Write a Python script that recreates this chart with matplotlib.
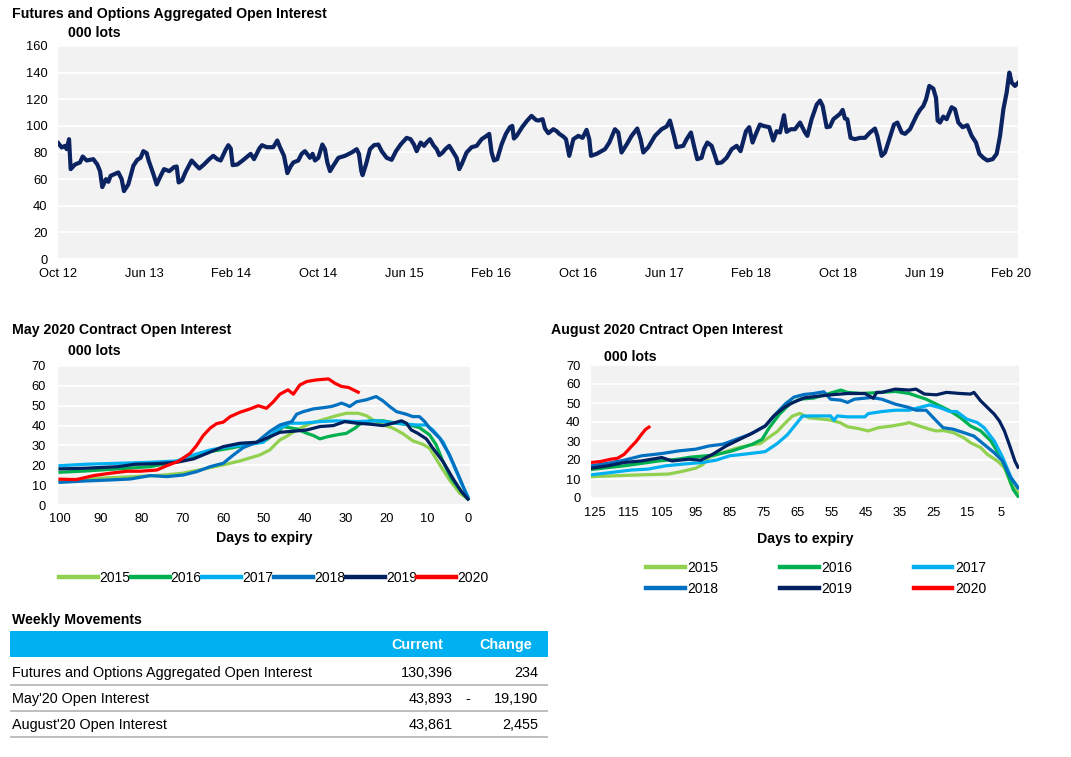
import matplotlib
matplotlib.use("Agg")
import matplotlib.pyplot as plt
from matplotlib.patches import Rectangle

plt.rcParams['font.family'] = ['Liberation Sans', 'DejaVu Sans']

# ------------------------------------------------------------------ data
agg_tick_labels = ["Oct 12", "Jun 13", "Feb 14", "Oct 14", "Jun 15", "Feb 16",
                   "Oct 16", "Jun 17", "Feb 18", "Oct 18", "Jun 19", "Feb 20"]
# months since Oct 2012
agg_months = [0.03, 0.34, 0.65, 0.80, 1.02, 1.17, 1.57, 2.03, 2.28, 2.65, 3.26, 3.63, 3.88, 4.09,
              4.43, 4.65, 4.86, 5.57, 5.88, 6.09, 6.49, 6.96, 7.32, 7.63, 7.88, 8.19, 8.37, 8.80,
              9.11, 9.48, 9.79, 10.28, 10.71, 10.96, 11.14, 11.45, 11.76, 12.34, 12.74, 13.05,
              13.48, 13.97, 14.34, 14.71, 15.02, 15.48, 15.73, 15.95, 16.13, 16.56, 17.05, 17.49,
              17.79, 18.10, 18.59, 18.84, 19.27, 19.88, 20.25, 20.50, 20.87, 21.18, 21.48,
              21.73, 22.19, 22.5, 22.8, 23.0, 23.27, 23.51, 23.73, 24.04, 24.41, 24.65, 24.87,
              25.12, 25.42, 25.89, 26.50, 27.12, 27.58, 27.79, 28.01, 28.13, 28.44, 28.81, 29.18,
              29.58, 29.89, 30.35, 30.81, 31.21, 31.64, 32.19, 32.56, 32.87, 33.12, 33.49, 33.80,
              34.04, 34.35, 34.66, 34.97, 35.21, 35.52, 35.77, 36.13, 36.44, 36.81, 37.05, 37.27,
              37.73, 38.20, 38.66, 39.12, 39.58, 39.82, 40.04, 40.26, 40.56, 40.96, 41.36, 41.73,
              41.95, 42.10, 42.35, 42.90, 43.33, 43.73, 44.13,
              44.35, 44.75, 44.97, 45.28, 45.74, 46.05, 46.29, 46.66, 46.91, 47.21, 47.59, 48.05,
              48.44, 48.81, 49.06, 49.22, 49.74, 50.51, 50.91, 51.43, 51.74, 52.04, 52.51, 52.97,
              53.49, 53.80, 54.05, 54.51, 55.13, 55.74, 56.20, 56.51, 56.88, 57.12, 57.74, 58.05,
              58.45, 58.73, 59.03, 59.43, 59.65, 59.96, 60.36, 60.67, 60.88, 61.28, 61.74, 62.21,
              62.67, 63.03, 63.53, 63.83, 64.14, 64.45, 64.82, 65.13, 65.68,
              66.05, 66.36, 66.67, 67.04, 67.28, 67.66, 68.06, 68.52, 68.98, 69.20, 69.59, 70.06,
              70.37, 70.61, 70.98, 71.29, 71.60, 71.90, 72.21, 72.46, 72.67, 72.89, 73.19, 73.59,
              74.06, 74.52, 74.98, 75.44, 75.66, 76.06, 76.37, 76.77, 77.20, 77.51, 77.91, 78.22,
              78.68, 79.30, 79.60, 79.91, 80.16, 80.46, 80.83, 81.08, 81.23, 81.45, 81.75, 82.06,
              82.52, 82.83, 83.14, 83.54, 83.97, 84.37, 84.77, 85.08, 85.45, 85.82, 86.31, 86.68,
              86.99, 87.30, 87.60, 87.85, 88.07, 88.37, 88.68]
agg_values = [87, 83.75, 85, 82.5, 90, 67.5, 71, 72.5, 77, 74, 75, 71, 66, 54,
              60, 58, 62.5, 65, 60, 51, 56, 70, 74.5, 76, 81, 79.5, 74, 64,
              56, 62.5, 67.5, 66, 69, 69.5, 57.5, 59, 65, 74, 70.5, 68,
              71, 75, 77.5, 75, 74, 82, 85.5, 83, 70.5, 71, 74, 77,
              79, 75, 83, 85.5, 84, 84, 89, 84, 77.5, 64.5, 69.5,
              72.5, 74, 79, 81, 79, 76, 79, 74, 76, 86, 82.5, 72.5,
              66, 70, 76, 77.5, 80, 82.5, 79, 66, 63, 71, 82.5, 85.5,
              86, 81, 76, 74.5, 81, 86, 91, 90, 86, 81, 87.5, 85,
              87.5, 90, 85.5, 82.5, 78, 80, 82.5, 85, 81, 76, 67.5, 71,
              80, 84, 85, 90, 92.5, 94, 80, 74, 75, 86, 94, 99,
              100, 90.5, 92.5, 99.5, 104, 107.5, 104.5,
              104, 105, 98, 94.5, 97.5, 96, 94, 92, 90, 77.5, 90, 92.5,
              91, 97, 90, 77.5, 79, 82.5, 87.5, 97.5, 95, 80, 86, 92.5,
              98, 90, 80, 84, 92.5, 97.5, 99.5, 104, 92.5, 84, 85, 90,
              95, 85, 75, 76, 82.5, 87.5, 85, 77.5, 72, 72.5, 76, 82.5,
              85, 81, 96, 99, 87.5, 94, 101, 100, 99,
              89, 96, 95, 108, 95.5, 97.5, 97.5, 102.5, 95, 92.5, 105, 116,
              119, 115, 99, 99.5, 105, 107, 109, 112, 105.5, 105, 91, 90,
              91, 91, 95, 98, 92.5, 77.5, 80, 90, 101, 102.5, 95, 94,
              97.5, 108, 112, 115, 120, 130, 128, 121, 104, 102.5, 107, 105,
              114, 112.5, 102.5, 99, 100.5, 92.5, 87.5, 79, 76, 74, 75, 79,
              92.5, 112.5, 125, 140, 132.5, 130, 132.5]

years = ["2015", "2016", "2017", "2018", "2019", "2020"]
year_colors = ["#92D050", "#00B050", "#00B0F0", "#0070C0", "#002060", "#FF0000"]

# May 2020 contract: days to expiry / open interest (000 lots)
may_days_2015 = [100, 90, 85, 80, 75, 70, 65, 60, 55.9, 51, 48.6, 46.1, 44.5, 42, 38.7, 35.5, 32.2,
                 29.8, 26.9, 24.9, 23.3, 20.8, 18.4, 16, 13.5, 11.1, 9.4, 6.9, 4.5, 2.0, 0]
may_vals_2015 = [12.5, 13.5, 14, 14.5, 15, 16, 18, 20.2, 22.2, 25.2, 27.7, 32.8, 34.5, 37.8, 41, 43, 45,
                 46.2, 46.2, 45, 42.9, 40.3, 38.7, 36, 32.3, 30.6, 28.6, 20.2, 12.6, 5.9, 3]
may_days_2016 = [100, 94, 85.8, 77.9, 72.2, 67.3, 63.2, 58.3, 53.4, 49.4, 46.1, 45.3, 42, 39.5, 37.9,
                 36.3, 34.2, 32.2, 29.8, 27.7, 26.5, 24, 20.8, 17.5, 14.3, 11.9, 9.4, 7.8, 6.1, 4.1,
                 1.6, 0]
may_vals_2016 = [16.5, 17.1, 18.2, 19.3, 21.5, 24.4, 26.9, 28.6, 30.6, 32.8, 37.8, 39.5, 38.3, 36.1, 35,
                 33.3, 34.5, 35.3, 36.1, 38.7, 40.7, 42.4, 42.4, 41.2, 40.3, 39, 35.3, 30.3, 21.8, 13.4,
                 6.7, 3]
may_days_2017 = [100, 94, 85.8, 77.9, 71.4, 67.3, 63.2, 60, 56.7, 53.4, 50.2, 48.5, 46.1, 43.6, 40.4,
                 36.3, 32.2, 27.3, 22.5, 17.5, 12.7, 10.2, 8.6, 6.1, 3.7, 1.6, 0]
may_vals_2017 = [19.8, 20.5, 21, 21.5, 22.2, 25.2, 27.7, 28.9, 29.9, 30.6, 31.6, 35, 38.7, 41.2, 41.2,
                 42, 42.4, 42, 42.4, 41.2, 40.3, 40.3, 37.8, 31.8, 21, 10.9, 4.2]
may_days_2018 = [100, 94, 87.7, 82.8, 77.9, 73.8, 69.8, 66.5, 63.2, 60, 57.5, 55.1, 51.8, 48.6, 46.1,
                 43.2, 42, 40.4, 37.9, 35.5, 33.5, 32.2, 31, 29.8, 29, 27.3, 24.9, 22.5, 20.8, 19.2,
                 17.5, 15.1, 13.5, 11.9, 10.6, 9.4, 6.9, 4.5, 2.0, 0]
may_vals_2018 = [11.4, 12.1, 12.6, 13.1, 14.8, 14.3, 15.1, 16.8, 19.3, 21, 25.2, 28.9, 31.6, 37, 40.3,
                 42, 45.7, 47, 48.4, 49, 49.6, 50.4, 51.3, 50.4, 49.6, 52, 53, 54.6, 52.4, 49.6,
                 47, 45.7, 44.5, 44.5, 42, 38.7, 33.6, 25.2, 13.4, 3.4]
may_days_2019 = [100, 94, 85.8, 81.7, 76.3, 71.4, 67.3, 64, 60, 55.9, 51.8, 49.4, 46.1, 42, 39.5, 36.3,
                 33, 30.2, 27.3, 24, 20.8, 18.4, 16.3, 15.1, 13.9, 12.3, 10.2, 8.6, 6.1, 3.7, 1.6, 0]
may_vals_2019 = [18.2, 18.5, 19.3, 20.5, 20.8, 21.5, 23.2, 26, 29.4, 31.1, 31.6, 33.6, 36.6, 37.3, 37.8,
                 39.5, 40, 42, 41.2, 40.7, 40, 41.2, 42.4, 41.2, 37.8, 36.1, 33.3, 28.6, 21.8, 13.4,
                 6.7, 3]
may_days_2020 = [100, 96, 91.8, 87.7, 83.6, 80.4, 76.3, 73.8, 71, 68.1, 66.5, 64.9, 63.2, 61.6, 60,
                 58.3, 55.9, 53.4, 51.4, 49.4, 47.7, 46.1, 44.1, 42.8, 41.2, 39.5, 37.1, 34.2, 32.6,
                 31, 29.3, 28.1, 26.9]
may_vals_2020 = [13, 12.8, 14.8, 16, 17, 17, 17.6, 19.8, 22, 26, 30, 35, 38.7, 41, 41.7,
                 44.5, 46.7, 48.4, 50, 48.7, 52, 55.8, 58, 55.8, 60.5, 62.2, 63, 63.5, 61.3,
                 59.7, 59.2, 58, 56.8]

# August 2020 contract
aug_days_2015 = [126, 119.2, 111.1, 103.1, 99.1, 95.1, 93.1, 91.1, 87.1, 83.1, 79.1, 76.1, 73.6, 71.1,
                 69.1, 66.6, 64.4, 61.6, 60.3, 55.3, 52.3, 50.3, 47, 44.2, 41.2, 37.2, 33.2, 32.1,
                 29.1, 26.1, 24.1, 22.1, 19.1, 16, 14, 11, 9, 6, 4, 2, 0]
aug_vals_2015 = [11.2, 11.7, 12.2, 12.6, 14, 15.7, 17.5, 21.3, 23.9, 26.2, 27.9, 28.6, 31.8, 34.9,
                 38.7, 43.1, 44.5, 42.2, 42, 41, 39.5, 37.5, 36.5, 35.3, 37, 37.9, 39.2, 39.7,
                 37.9, 36.2, 35.3, 35.5, 34.4, 31.7, 29.1, 26.5, 22.9, 19.4, 15.9, 7, 3]
aug_days_2016 = [126, 116, 106, 100, 96.6, 90, 84.5, 78.5, 75.5, 73.4, 70.4, 67.4, 64.4, 60.3, 56.3,
                 52.3, 50.3, 46.2, 40.2, 36.2, 32.1, 30.1, 27.1, 24.1, 20.1, 17, 14, 11, 8, 5, 3,
                 1.4, 0]
aug_vals_2016 = [15, 17, 19.5, 20.5, 21.5, 22.5, 24.7, 28.2, 30.9, 37, 44.1, 49.4, 52, 52.6, 54.7,
                 56.8, 55.6, 55, 55.6, 56.1, 55, 53.8, 52, 49.4, 45.9, 42.3, 37.9, 35.3, 30, 21.2,
                 12.3, 4.4, 0.9]
aug_days_2017 = [126, 120.2, 114.2, 109.2, 104.1, 99.1, 93.1, 89.1, 85.1, 79.1, 74.6, 71.1, 68.1, 65.6,
                 63.6, 60.3, 55.3, 54.3, 53.3, 50.3, 45.2, 44.2, 40.2, 36.2, 32.1, 29.1, 26.1, 23.1,
                 20.1, 18.1, 15, 12, 10, 7, 4.5, 2, 0]
aug_vals_2017 = [12.2, 13.4, 14.7, 15.2, 16.9, 17.8, 18.7, 19.9, 22.2, 23.4, 24.4, 28.6, 33.2, 38.7,
                 43.1, 43.2, 43.2, 40.9, 43.2, 42.7, 42.7, 44.4, 45.5, 46.2, 46.2, 47.6, 49, 47.6,
                 45.5, 45.5, 41.4, 39.7, 37, 30, 21.2, 10.6, 5.6]
aug_days_2018 = [126, 121.2, 116.2, 111.1, 105.1, 100.1, 95.1, 91.1, 87.1, 83.1, 79.1, 74.6, 71.6,
                 68.6, 66.1, 63.1, 60.3, 57.3, 55.3, 52.3, 50.3, 48.3, 43.2, 40.2, 36.2, 32.1, 30.1,
                 27.1, 24.1, 22.1, 19.1, 16, 13, 10, 7, 4.5, 2.4, 0]
aug_vals_2018 = [16.9, 18.2, 19.9, 22.2, 23.4, 24.8, 25.7, 27.4, 28.3, 30.9, 33.5, 37.9, 44, 49.6,
                 53.1, 54.5, 55, 55.9, 52, 51.5, 50.3, 52, 52.9, 52, 49.4, 47.6, 46.2, 46.2, 40.6,
                 37, 36.2, 34.4, 32.6, 28.2, 23.8, 19.4, 11.5, 5.3]
aug_days_2019 = [126, 121.2, 116.2, 111.1, 105.1, 102.1, 97.1, 93.6, 90.1, 86.1, 82.1, 78.1, 74.6,
                 72.1, 69.1, 66.6, 63.1, 60.3, 55.3, 50.3, 45.2, 42.7, 41.7, 40.2, 36.2, 32.1, 30.1,
                 27.6, 24.1, 21.1, 17, 14, 13, 11, 9, 7, 5.5, 4, 2.4, 0.9, 0]
aug_vals_2019 = [15.7, 16.9, 18.7, 19.5, 21.3, 19.5, 20.4, 19.9, 23, 27.4, 30.9, 34.4, 37.9, 43.1,
                 47.5, 50.1, 52.7, 53.3, 54.3, 55, 55, 52.5, 55.6, 55.6, 57.3, 56.8, 57.3, 54.7,
                 54.3, 55.6, 55, 54.7, 55.6, 51.1, 47.6, 44.1, 40.6, 35.3, 27.3, 19.4, 16.2]
aug_days_2020 = [126, 123.2, 120.2, 118.2, 116.2, 114.2, 112.7, 111.1, 109.9, 108.9]
aug_vals_2020 = [18.7, 19.2, 20.4, 20.9, 23, 26.9, 29.7, 33.5, 36.1, 37.3]

# Weekly movements table
table_labels = ["Futures and Options Aggregated Open Interest", "May'20 Open Interest",
                "August'20 Open Interest"]
table_current = [130396, 43893, 43861]
table_change = [234, -19190, 2455]

# ------------------------------------------------------------------ layout helpers
W, H = 1071, 757
fig = plt.figure(figsize=(W / 100, H / 100), dpi=100)
fig.patch.set_facecolor("white")

BG = "#F2F2F2"
TXT = "#000000"
TICK_FS = 9.3
TITLE_FS = 10.2
LEG_FS = 10
TAB_FS = 10.4


def px_axes(x0, y0, x1, y1):
    return fig.add_axes([x0 / W, 1 - y1 / H, (x1 - x0) / W, (y1 - y0) / H])


def ftext(x, y, s, **kw):
    kw.setdefault("va", "center")
    kw.setdefault("color", TXT)
    fig.text(x / W, 1 - y / H, s, **kw)


def style_axes(ax, ymax, ystep, xpad=7, ypad=8):
    ax.set_facecolor(BG)
    for sp in ax.spines.values():
        sp.set_visible(False)
    ax.set_ylim(0, ymax)
    ax.set_yticks(range(0, ymax + 1, ystep))
    ax.grid(axis="y", color="white", linewidth=1.3)
    ax.set_axisbelow(True)
    ax.tick_params(axis="both", length=0, labelsize=TICK_FS, colors="#000000")
    ax.tick_params(axis="x", pad=xpad)
    ax.tick_params(axis="y", pad=ypad)


# ------------------------------------------------------------------ top chart
ax1 = px_axes(58, 46, 1018, 259)
style_axes(ax1, 160, 20, xpad=6.5, ypad=7.5)
ax1.plot(agg_months, agg_values, color="#0B2361", linewidth=3.0, solid_joinstyle="round")
ax1.set_xlim(0, 88.65)
ax1.set_xticks([8 * i for i in range(len(agg_tick_labels))])
ax1.set_xticklabels(agg_tick_labels)
ftext(12, 14, "Futures and Options Aggregated Open Interest", fontsize=TITLE_FS, fontweight="bold")
ftext(68, 33, "000 lots", fontsize=TITLE_FS, fontweight="bold")

# ------------------------------------------------------------------ May chart
ax2 = px_axes(58, 366, 470, 505)
style_axes(ax2, 70, 10, xpad=6, ypad=8.5)
may_series = [(may_days_2015, may_vals_2015), (may_days_2016, may_vals_2016),
              (may_days_2017, may_vals_2017), (may_days_2018, may_vals_2018),
              (may_days_2019, may_vals_2019), (may_days_2020, may_vals_2020)]
may_lines = []
for (d, v), yr, c in zip(may_series, years, year_colors):
    ln, = ax2.plot(d, v, color=c, linewidth=2.3, label=yr, solid_joinstyle="round")
    may_lines.append(ln)
ax2.set_xlim(100.5, -0.5)
ax2.set_xticks(range(100, -1, -10))
ax2.set_xlabel("Days to expiry", fontsize=TITLE_FS, fontweight="bold", labelpad=4)
ftext(12, 330, "May 2020 Contract Open Interest", fontsize=TITLE_FS, fontweight="bold")
ftext(68, 351, "000 lots", fontsize=TITLE_FS, fontweight="bold")
leg2 = ax2.legend(handles=may_lines, loc="center left", bbox_to_anchor=(59 / W, 1 - 578 / H),
                  bbox_transform=fig.transFigure, ncol=6, frameon=False, fontsize=LEG_FS,
                  handlelength=2.8, handletextpad=0.08, columnspacing=0.05, borderpad=0,
                  borderaxespad=0)
for ln in leg2.get_lines():
    ln.set_linewidth(3.2)

# ------------------------------------------------------------------ August chart
ax3 = px_axes(591, 365, 1019, 498)
style_axes(ax3, 70, 10, xpad=6.5, ypad=7.5)
aug_series = [(aug_days_2015, aug_vals_2015), (aug_days_2016, aug_vals_2016),
              (aug_days_2017, aug_vals_2017), (aug_days_2018, aug_vals_2018),
              (aug_days_2019, aug_vals_2019), (aug_days_2020, aug_vals_2020)]
aug_lines = []
for (d, v), yr, c in zip(aug_series, years, year_colors):
    ln, = ax3.plot(d, v, color=c, linewidth=2.3, label=yr, solid_joinstyle="round")
    aug_lines.append(ln)
ax3.set_xlim(126, -0.3)
ax3.set_xticks(range(125, 0, -10))
ax3.set_xlabel("Days to expiry", fontsize=TITLE_FS, fontweight="bold", labelpad=9)
ftext(551, 330, "August 2020 Cntract Open Interest", fontsize=TITLE_FS, fontweight="bold")
ftext(604, 357, "000 lots", fontsize=TITLE_FS, fontweight="bold")
# legend filled row-wise: 2015 2016 2017 / 2018 2019 2020
aug_order = [0, 3, 1, 4, 2, 5]
leg3 = ax3.legend(handles=[aug_lines[i] for i in aug_order], loc="center left",
                  bbox_to_anchor=(646 / W, 1 - 578.5 / H),
                  bbox_transform=fig.transFigure, ncol=3, frameon=False, fontsize=LEG_FS,
                  handlelength=2.8, handletextpad=0.2, columnspacing=4.4, borderpad=0,
                  borderaxespad=0, labelspacing=0.5)
for ln in leg3.get_lines():
    ln.set_linewidth(3.2)

# ------------------------------------------------------------------ table
ftext(12, 620, "Weekly Movements", fontsize=TITLE_FS, fontweight="bold")
fig.add_artist(Rectangle((10 / W, 1 - 657 / H), 538 / W, 26 / H, transform=fig.transFigure,
                         facecolor="#00B0F0", edgecolor="none"))
ftext(443, 645, "Current", fontsize=TAB_FS, fontweight="bold", color="white", ha="right")
ftext(532, 645, "Change", fontsize=TAB_FS, fontweight="bold", color="white", ha="right")
row_y = [673, 699, 725]
for lbl, cur, chg, y in zip(table_labels, table_current, table_change, row_y):
    ftext(12, y, lbl, fontsize=TAB_FS)
    ftext(453, y, f"{cur:,}", fontsize=TAB_FS, ha="right")
    if chg < 0:
        ftext(468, y, "-", fontsize=TAB_FS, ha="center")
    ftext(538, y, f"{abs(chg):,}", fontsize=TAB_FS, ha="right")
    fig.add_artist(Rectangle((10 / W, 1 - (y + 13) / H), 538 / W, 2.5 / H,
                             transform=fig.transFigure, facecolor="#BFBFBF", edgecolor="none"))

fig.savefig("out.png", dpi=100)
